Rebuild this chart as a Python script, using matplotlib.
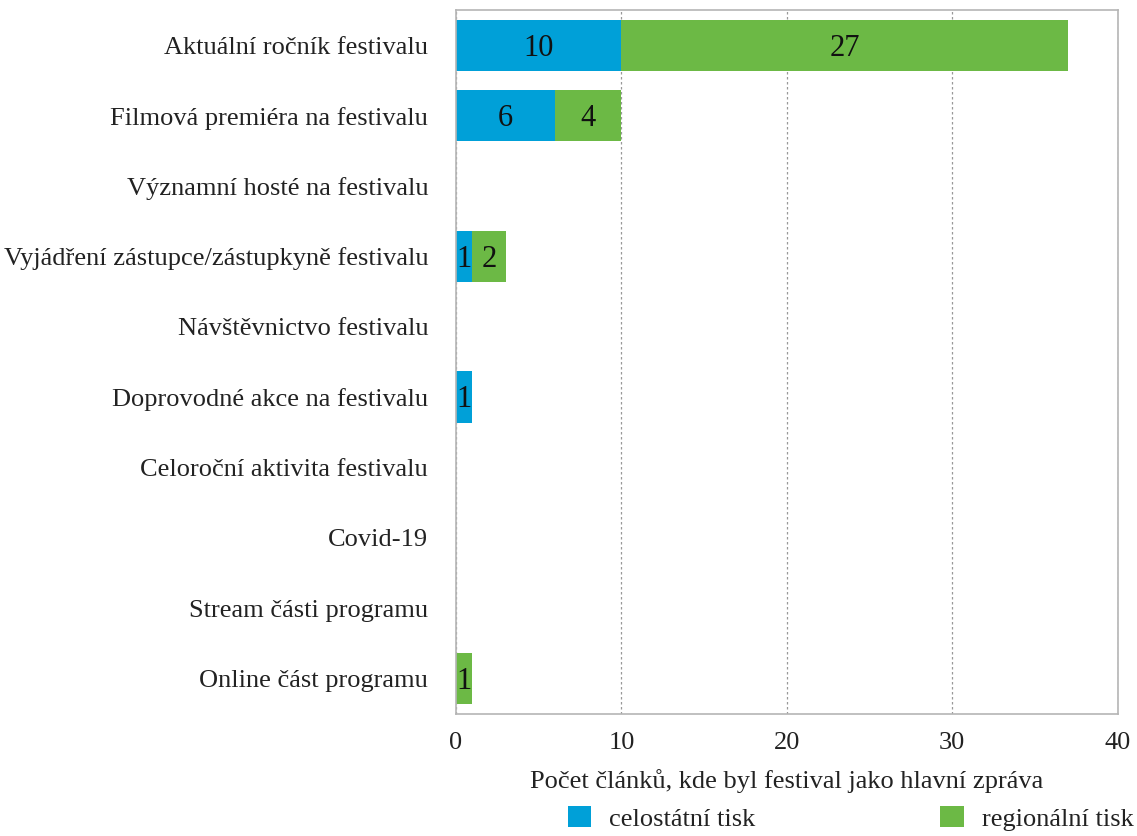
import matplotlib.pyplot as plt
import numpy as np

plt.rcParams['font.family'] = ['Liberation Serif', 'DejaVu Serif']

categories = [
    "Aktuální ročník festivalu",
    "Filmová premiéra na festivalu",
    "Významní hosté na festivalu",
    "Vyjádření zástupce/zástupkyně festivalu",
    "Návštěvnictvo festivalu",
    "Doprovodné akce na festivalu",
    "Celoroční aktivita festivalu",
    "Covid-19",
    "Stream části programu",
    "Online část programu",
]
celostatni = [10, 6, 0, 1, 0, 1, 0, 0, 0, 0]
regionalni = [27, 4, 0, 2, 0, 0, 0, 0, 0, 1]

blue = '#00a0d8'
green = '#6cb945'

fig = plt.figure(figsize=(11.37, 8.36), dpi=100)
ax = fig.add_axes([0.401, 0.146, 0.582, 0.842])

y = np.arange(len(categories))
h = 0.73
ax.barh(y, celostatni, height=h, color=blue, label='celostátní tisk', zorder=2)
ax.barh(y, regionalni, left=celostatni, height=h, color=green, label='regionální tisk', zorder=2)

# value labels in the middle of each segment
for i in range(len(categories)):
    if celostatni[i] > 0:
        ax.text(celostatni[i] / 2, y[i] + 0.04, str(celostatni[i]), ha='center', va='center',
                fontsize=22, color='#111111', zorder=3)
    if regionalni[i] > 0:
        ax.text(celostatni[i] + regionalni[i] / 2, y[i] + 0.04, str(regionalni[i]), ha='center',
                va='center', fontsize=22, color='#111111', zorder=3)

ax.set_xlim(0, 40)
ax.set_ylim(len(categories) - 0.5, -0.5)
ax.set_xticks([0, 10, 20, 30, 40])
ax.set_yticks(y)
ax.set_yticklabels(categories)
ax.tick_params(axis='both', length=0, labelsize=19, colors='#222222')
ax.tick_params(axis='x', pad=13)
ax.tick_params(axis='y', pad=20)
ax.grid(axis='x', linestyle=(0, (2, 2)), color='#999999', linewidth=0.9, zorder=1)
for s in ax.spines.values():
    s.set_color('#b5b5b5')
    s.set_linewidth(1.2)

ax.set_xlabel('Počet článků, kde byl festival jako hlavní zpráva', fontsize=19,
              color='#222222', labelpad=10.5)

fig.legend(loc='lower center', bbox_to_anchor=(0.748, -0.022), ncol=2, frameon=False,
           fontsize=19, handlelength=0.9, handleheight=0.85, columnspacing=6.98,
           handletextpad=0.68, labelcolor='#222222')

fig.savefig('out.png', dpi=100)
